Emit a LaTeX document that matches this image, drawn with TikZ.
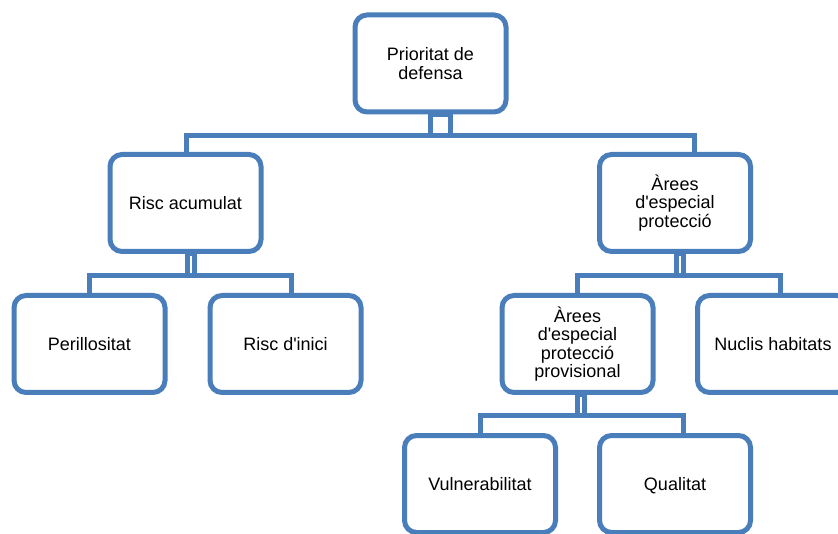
\documentclass[tikz,border=0pt]{standalone}
\usepackage{fontspec}
\setmainfont{Liberation Sans}[Ligatures=TeXOff]
\usetikzlibrary{backgrounds}
\definecolor{boxblue}{RGB}{74,126,187}
\begin{document}
\begin{tikzpicture}[x=1pt,y=-1pt,
  box/.style={draw=boxblue, line width=5pt, rounded corners=12pt, fill=white,
    minimum width=151pt, minimum height=97pt, inner sep=2pt, align=center,
    font=\fontsize{18}{18.6}\selectfont},
  bar/.style={draw=boxblue, line width=5pt},
  stem/.style={draw=boxblue, line width=5pt, fill=white}]
\useasboundingbox (0,0) rectangle (838,534);
\clip (0,0) rectangle (838,534);

\node[box] (top)    at (430.5,63.5) {Prioritat de\\defensa};
\node[box] (risc)   at (185.5,203)  {Risc acumulat};
\node[box] (arees)  at (675,203)    {Àrees\\d'especial\\protecció};
\node[box] (perill) at (89.5,344)   {Perillositat};
\node[box] (inici)  at (285.5,344)  {Risc d'inici};
\node[box] (prov)   at (577.5,344)  {Àrees\\d'especial\\protecció\\provisional};
\node[box] (nuclis) at (773,344)    {Nuclis habitats};
\node[box] (vuln)   at (480,484)    {Vulnerabilitat};
\node[box, text depth=0pt] (qual) at (675,484) {Qualitat};

\coordinate (j0)  at (440.5,135.5);
\coordinate (j1L) at (191,275.5);
\coordinate (j1R) at (679.5,275.5);
\coordinate (j2)  at (581,415.5);

\begin{pgfonlayer}{background}
  \fill[white] (0,0) rectangle (838,534);
  \draw[stem] ([xshift=-10pt]j0 |- top.south) rectangle ([xshift=10pt]j0);
  \draw[stem] ([xshift=-3.5pt]j1L |- risc.south) rectangle ([xshift=3.5pt]j1L);
  \draw[stem] ([xshift=-3.5pt]j1R |- arees.south) rectangle ([xshift=3.5pt]j1R);
  \draw[stem] ([xshift=-3.5pt]j2 |- prov.south) rectangle ([xshift=3.5pt]j2);
  \draw[bar] ([xshift=0.5pt]risc.north) |- (j0) -| ([xshift=19.5pt]arees.north);
  \draw[bar] (perill.north) |- (j1L) -| ([xshift=6pt]inici.north);
  \draw[bar] (prov.north) |- (j1R) -| ([xshift=7.5pt]nuclis.north);
  \draw[bar] (vuln.north) |- (j2) -| ([xshift=8.5pt]qual.north);
\end{pgfonlayer}
\end{tikzpicture}
\end{document}
